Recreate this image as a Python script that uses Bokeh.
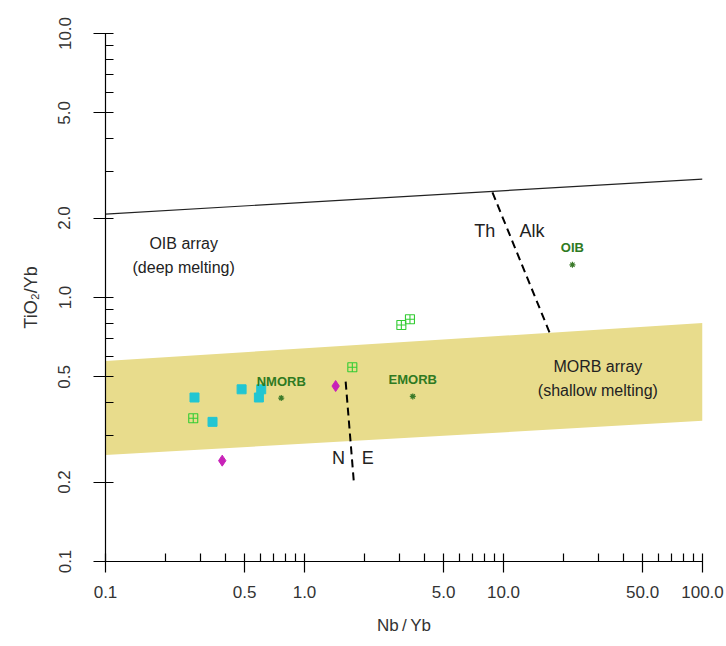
from bokeh.plotting import figure
from bokeh.models import Range1d, FixedTicker, CustomJSTickFormatter, ColumnDataSource
from bokeh.core.properties import value
from bokeh.embed import file_html
from bokeh.resources import INLINE

# ---------------- data ----------------
cyan_x = [0.280, 0.483, 0.606, 0.590, 0.345]
cyan_y = [0.418, 0.449, 0.449, 0.418, 0.338]

magenta_x = [0.386, 1.434]
magenta_y = [0.241, 0.462]

green_x = [0.276, 1.739, 3.067, 3.388]
green_y = [0.349, 0.544, 0.787, 0.827]

ref_names = ["NMORB", "EMORB", "OIB"]
ref_x = [0.764, 3.50, 22.2]
ref_y = [0.416, 0.422, 1.33]

band_x = [0.1, 100]
band_lower = [0.253, 0.341]
band_upper = [0.575, 0.80]

oib_x = [0.1, 100]
oib_y = [2.07, 2.81]

thalk_x = [8.8, 17.1]
thalk_y = [2.5, 0.732]

ne_x = [1.61, 1.77]
ne_y = [0.48, 0.20]

ann_text = ["OIB array", "(deep melting)", "MORB array", "(shallow melting)"]
ann_x = [0.247, 0.247, 29.8, 29.8]
ann_y = [1.608, 1.304, 0.550, 0.443]

div_text = ["Th", "Alk", "N", "E"]
div_x = [8.05, 13.9, 1.484, 2.076]
div_y = [1.785, 1.785, 0.247, 0.247]

x_major = [0.1, 0.5, 1, 5, 10, 50, 100]
x_minor = [0.2, 0.3, 0.4, 0.6, 0.7, 0.8, 0.9, 2, 3, 4, 6, 7, 8, 9,
           20, 30, 40, 60, 70, 80, 90]
y_major = [0.1, 0.2, 0.5, 1, 2, 5, 10]
y_minor = [0.3, 0.4, 0.6, 0.7, 0.8, 0.9, 3, 4, 6, 7, 8, 9]

# ---------------- figure ----------------
FONT = "Liberation Sans"

p = figure(width=726, height=646, x_axis_type="log", y_axis_type="log",
           x_range=Range1d(0.1, 100), y_range=Range1d(0.1, 10),
           output_backend="svg", toolbar_location=None,
           min_border_left=105, min_border_right=24,
           min_border_top=33, min_border_bottom=85)
p.outline_line_color = None
p.grid.visible = False
p.background_fill_color = "white"
p.border_fill_color = "white"

# MORB band
p.varea(x=band_x, y1=band_lower, y2=band_upper, fill_color="#E8DC8C", fill_alpha=1.0)

# OIB boundary
p.line(oib_x, oib_y, line_color="#222222", line_width=1.2)

# dashed divisions
p.line(thalk_x, thalk_y, line_color="black", line_width=2, line_dash="8 5")
p.line(ne_x, ne_y, line_color="black", line_width=2, line_dash="8 5")

# data points
p.scatter(cyan_x, cyan_y, marker="square", size=9, fill_color="#22C6D2",
          line_color="#22C6D2")
p.scatter(magenta_x, magenta_y, marker="diamond", size=11, fill_color="#C822B8",
          line_color="#C822B8")
p.scatter(green_x, green_y, marker="square_cross", size=9, fill_color=None,
          line_color="#33CC33", line_width=1.1)

# reference compositions
src_ref = ColumnDataSource(dict(x=ref_x, y=ref_y, t=ref_names))
p.scatter("x", "y", source=src_ref, marker="asterisk", size=6,
          line_color="#3B7A2A", line_width=1.2)
p.text("x", "y", text="t", source=src_ref, text_font=value(FONT),
       text_font_size="13px", text_font_style="bold", text_color="#2F7A22",
       text_align="center", text_baseline="middle", y_offset=-17)

# annotations
src_ann = ColumnDataSource(dict(x=ann_x, y=ann_y, t=ann_text))
p.text("x", "y", text="t", source=src_ann, text_font=value(FONT),
       text_font_size="16px", text_color="#222222",
       text_align="center", text_baseline="middle")

src_div = ColumnDataSource(dict(x=div_x, y=div_y, t=div_text))
p.text("x", "y", text="t", source=src_div, text_font=value(FONT),
       text_font_size="18px", text_color="#222222",
       text_align="center", text_baseline="middle")

# axes
fmt = CustomJSTickFormatter(code="return tick.toFixed(1);")

xa = p.xaxis[0]
xa.ticker = FixedTicker(ticks=x_major, minor_ticks=x_minor)
xa.formatter = fmt
xa.axis_label = "Nb\u2009/\u2009Yb"

ya = p.yaxis[0]
ya.ticker = FixedTicker(ticks=y_major, minor_ticks=y_minor)
ya.formatter = fmt
ya.axis_label = "TiO\u2082/Yb"
ya.major_label_orientation = "parallel"

for ax in (xa, ya):
    ax.axis_line_color = "black"
    ax.axis_line_width = 1.2
    ax.major_tick_line_color = "black"
    ax.major_tick_line_width = 1.2
    ax.minor_tick_line_color = "black"
    ax.minor_tick_line_width = 1.2
    ax.major_tick_out = 12
    ax.major_tick_in = 8
    ax.minor_tick_out = 0
    ax.minor_tick_in = 8
    ax.major_label_text_font = FONT
    ax.major_label_text_font_size = "17px"
    ax.major_label_text_color = "#333333"
    ax.axis_label_text_font = FONT
    ax.axis_label_text_font_style = "normal"
    ax.axis_label_text_color = "#333333"

xa.axis_label_text_font_size = "17px"
ya.axis_label_text_font_size = "18px"
xa.major_tick_out = 11
xa.major_label_standoff = 13
xa.axis_label_standoff = 15
ya.major_label_standoff = 23
ya.axis_label_standoff = 15

open("out.html", "w").write(file_html(p, INLINE))
